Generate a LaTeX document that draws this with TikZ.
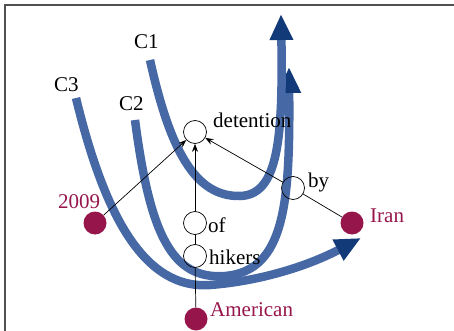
\documentclass[tikz,border=0pt]{standalone}
\usepackage{fontspec}
\setmainfont{Liberation Serif}
\usetikzlibrary{arrows.meta}
\definecolor{maroon}{RGB}{150,22,75}
\definecolor{bandblue}{RGB}{70,105,165}
\definecolor{tipblue}{RGB}{18,58,120}
\definecolor{framegray}{RGB}{80,80,80}
\tikzset{
  band/.style={line width=8.5pt, bandblue, -{Triangle[length=26pt,width=22pt,color=tipblue,fill=tipblue]}},
  wnode/.style={circle, draw=black, line width=0.7pt, minimum size=23pt, inner sep=0pt},
  dnode/.style={circle, fill=maroon, minimum size=23pt, inner sep=0pt},
  lbl/.style={font=\fontsize{21}{21}\selectfont, inner sep=0pt, anchor=base west},
  mlbl/.style={lbl, text=maroon},
  dep/.style={line width=0.7pt, -{Stealth[length=8pt,width=6pt]}},
  link/.style={line width=0.7pt}
}
\begin{document}
\begin{tikzpicture}[x=1pt,y=-1pt]
\useasboundingbox (0,0) rectangle (454,331);
% frame
\draw[framegray, line width=1.6pt] (5,331) -- (5,5) -- (454,5);
% bands
\draw[band] (76,98) .. controls (102,205) and (140,290) .. (210,285) .. controls (262,281) and (310,265) .. (361,238);
\draw[band] (135,120) .. controls (150,235) and (172,280) .. (225,276) .. controls (286,271) and (290,200) .. (289,67);
\draw[band] (150,60) .. controls (170,150) and (195,197) .. (240,196) .. controls (278,195) and (283,140) .. (281,14);
% nodes
\node[wnode] (det) at (195,132) {};
\node[wnode] (of) at (195,223) {};
\node[wnode] (hik) at (195,256) {};
\node[wnode] (by) at (293,188) {};
\node[dnode] (am) at (196,319) {};
\node[dnode] (y09) at (95,223) {};
\node[dnode] (iran) at (352,223) {};
% labels
\node[lbl] (tdet) at (213,128) {detention};
\node[lbl] (tof) at (208,232) {of};
\node[lbl] (thik) at (209,264) {hikers};
\node[lbl] (tby) at (308,187) {by};
\node[mlbl] (tam) at (210,316) {American};
\node[mlbl] (t09) at (58,208) {2009};
\node[mlbl] (tiran) at (370,222) {Iran};
\node[lbl] (c1) at (134,49) {C1};
\node[lbl] (c2) at (119,111) {C2};
\node[lbl] (c3) at (54,92) {C3};
% edges
\draw[dep] (y09) -- (det);
\draw[dep] (of) -- (det);
\draw[dep] (by) -- (det);
\draw[link] (hik) -- (of);
\draw[link] (am) -- (hik);
\draw[link] (iran) -- (by);
\end{tikzpicture}
\end{document}
